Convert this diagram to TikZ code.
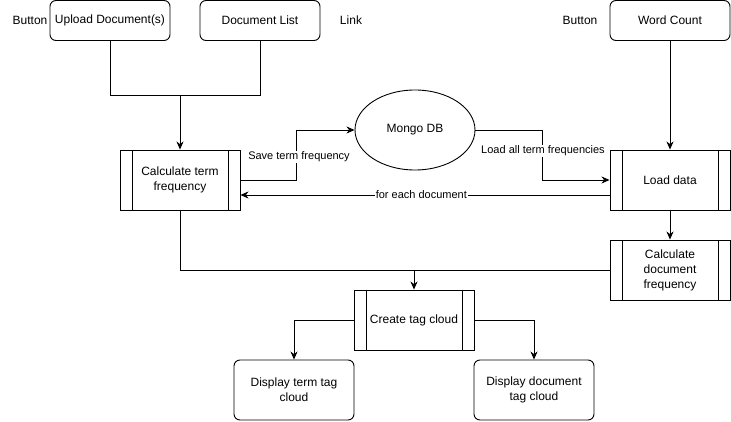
\documentclass[tikz,border=0pt]{standalone}
\usepackage{fontspec}
\setmainfont{Liberation Sans}
\usetikzlibrary{arrows.meta,shapes.geometric}
\begin{document}
\begin{tikzpicture}[x=1pt,y=-1pt,line width=0.9pt,
  >={Stealth[length=8pt,width=7pt,inset=2.5pt]},
  every node/.style={font=\fontsize{12}{15}\selectfont},
  btn/.style={draw,rounded corners=6pt,minimum width=120pt,minimum height=40pt,align=center,inner sep=0pt},
  tallbtn/.style={btn,minimum height=60pt},
  proc/.style={draw,minimum width=120pt,minimum height=60pt,align=center,inner sep=0pt,
    path picture={
      \draw ([xshift=12pt]path picture bounding box.north west) -- ([xshift=12pt]path picture bounding box.south west);
      \draw ([xshift=-12pt]path picture bounding box.north east) -- ([xshift=-12pt]path picture bounding box.south east);
    }},
  db/.style={draw,ellipse,minimum width=120pt,minimum height=80pt,inner sep=0pt},
  plain/.style={inner sep=0pt},
  elabel/.style={fill=white,inner sep=1pt,font=\fontsize{11}{13}\selectfont}]
\fill[white] (0,0) rectangle (731,422);
\useasboundingbox (0,0) rectangle (731,422);

\node[btn] (up) at (110,20.5) {Upload Document(s)};
\node[btn] (dl) at (260,20.5) {Document List};
\node[btn] (wc) at (670,20.5) {Word Count};
\node[plain] (lb1) at (30,20) {Button};
\node[plain] (lb2) at (351,20) {Link};
\node[plain] (lb3) at (580,20) {Button};

\node[proc] (ctf) at (180,180) {Calculate term\\frequency};
\node[db] (mdb) at (415,130) {Mongo DB};
\node[proc] (ld) at (670,180) {Load data};
\node[proc] (cdf) at (670,270) {Calculate\\document\\frequency};
\node[proc] (ctc) at (414,320) {Create tag cloud};
\node[tallbtn] (dtt) at (294,390) {Display term tag\\cloud};
\node[tallbtn] (ddt) at (534,390) {Display document\\tag cloud};

\coordinate (j) at (180,95);
\draw (up.south) |- (j);
\draw (dl.south) |- (j);
\draw[->] (j) -- (ctf.north);

\draw[->] (ctf.east) -| ([xshift=-58pt]mdb.west) -- (mdb.west);
\node[elabel] (l1) at (299,157) {Save term frequency};

\draw[->] (mdb.east) -| ([xshift=-67pt]ld.west) -- (ld.west);
\node[elabel] (l2) at (543,151) {Load all term frequencies};

\draw[->] ([yshift=-15pt]ld.west) -- ([yshift=-15pt]ctf.east)
  node[elabel,pos=0.51] {for each document};

\draw[->] (wc.south) -- (ld.north);
\draw[->] (ld.south) -- (cdf.north);

\draw (ctf.south) |- (cdf.west);
\draw[->] (ctc.north |- cdf.west) -- (ctc.north);

\draw[->] (ctc.west) -| (dtt.north);
\draw[->] (ctc.east) -| (ddt.north);
\end{tikzpicture}
\end{document}
